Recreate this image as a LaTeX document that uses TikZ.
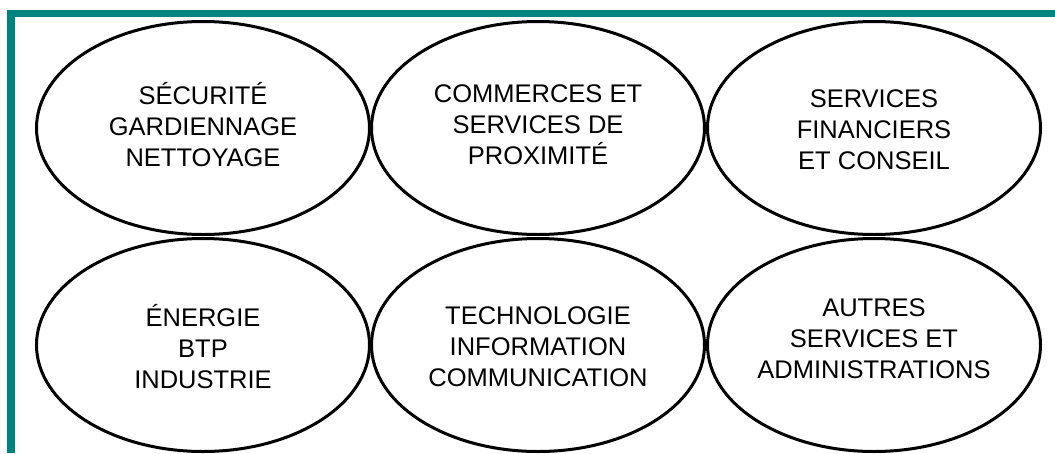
\documentclass[tikz,border=0pt]{standalone}
\usepackage{fontspec}
\setmainfont{Liberation Sans}
\usetikzlibrary{shapes.geometric}
\definecolor{frameteal}{HTML}{00827F}
\tikzset{
  sector/.style={ellipse, draw=black, line width=3pt, minimum width=333pt,
    minimum height=213pt, inner sep=0pt},
  sectortext/.style={align=center, inner sep=0pt,
    font=\fontsize{25.5}{31}\selectfont},
  framebar/.style={fill=frameteal, draw=none}
}
\begin{document}
\begin{tikzpicture}[x=1pt,y=-1pt]
  \useasboundingbox (0,0) rectangle (1055,453);
  % teal frame (top and left edges)
  \fill[framebar] (7,10) rectangle (1055,17);
  \fill[framebar] (7,10) rectangle (15,453);
  % first row
  \node[sector] (secu) at (203,128) {};
  \node[sector] (comm) at (538,128) {};
  \node[sector] (fin)  at (874,128) {};
  % second row
  \node[sector] (ener) at (203,345) {};
  \node[sector] (tech) at (538,345) {};
  \node[sector] (autr) at (874,345) {};
  % sector names
  \node[sectortext, yshift=3pt]  (secut) at (secu.center) {SÉCURITÉ\\GARDIENNAGE\\NETTOYAGE};
  \node[sectortext, yshift=3pt]  (commt) at (comm.center) {COMMERCES ET\\SERVICES DE\\PROXIMITÉ};
  \node[sectortext, yshift=-2pt] (fint)  at (fin.center)  {SERVICES\\FINANCIERS\\ET CONSEIL};
  \node[sectortext, yshift=-2pt] (enert) at (ener.center) {ÉNERGIE\\BTP\\INDUSTRIE};
  \node[sectortext, yshift=-2pt] (techt) at (tech.center) {TECHNOLOGIE\\INFORMATION\\COMMUNICATION};
  \node[sectortext, yshift=6pt]  (autrt) at (autr.center) {AUTRES\\SERVICES ET\\ADMINISTRATIONS};
\end{tikzpicture}
\end{document}
